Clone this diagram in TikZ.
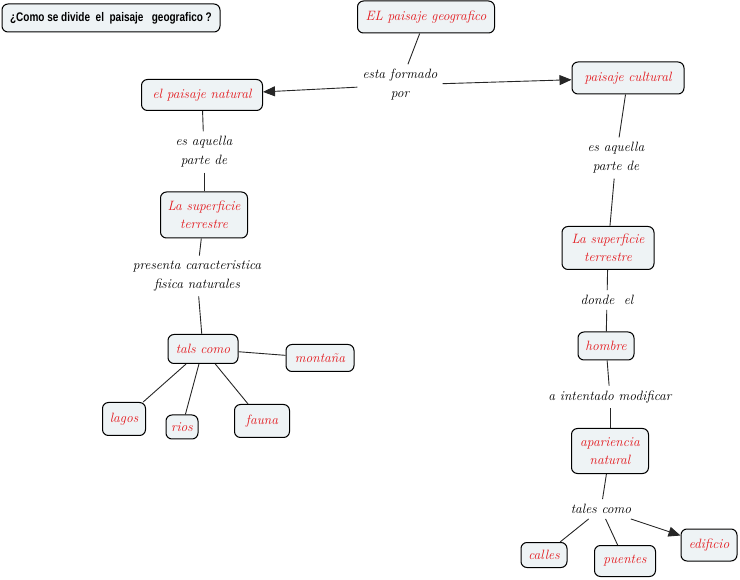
\documentclass[tikz,border=0pt]{standalone}
\usepackage{fontspec}
\usepackage{graphicx}
\newfontfamily\titlefont{Liberation Sans}
\usetikzlibrary{arrows.meta}
\definecolor{boxfill}{HTML}{EEF3F5}
\definecolor{txtred}{HTML}{E3161B}
\tikzset{
  box/.style={draw=black, line width=1pt, rounded corners=6pt, fill=boxfill, text=txtred,
    font=\fontsize{13.5}{18}\selectfont\itshape, align=center, inner sep=1pt},
  lab/.style={font=\fontsize{13.5}{19}\selectfont\itshape, align=center, inner sep=5pt, text=black},
  con/.style={draw=black!85, line width=0.9pt},
  arr/.style={con, -{Triangle[length=12pt,width=10pt]}},
}
\begin{document}
\begin{tikzpicture}[x=1pt,y=-1pt]
\useasboundingbox (0,0) rectangle (740,580);
% title
\node[box, text=black, font=\titlefont\bfseries\fontsize{12.5}{14}\selectfont, minimum width=218pt, minimum height=28pt] (title) at (111,18)
  {\scalebox{0.8}[1]{¿Como se divide\ \ el\ \ paisaje\ \ \ geografico ?}};
% boxes
\node[box, minimum width=137pt, minimum height=32pt] (geo) at (426,17) {EL paisaje geografico};
\node[box, minimum width=112pt, minimum height=32pt] (cult) at (628,78) {paisaje cultural};
\node[box, minimum width=121pt, minimum height=31pt] (nat) at (202,95) {el paisaje natural};
\node[box, minimum width=87pt, minimum height=46pt] (supL) at (204,215) {La superficie\\terrestre};
\node[box, minimum width=70pt, minimum height=29pt] (tals) at (203,349) {tals como};
\node[box, minimum width=68pt, minimum height=27pt] (mont) at (320,358) {montaña};
\node[box, minimum width=43pt, minimum height=33pt] (lagos) at (124,419) {lagos};
\node[box, minimum width=32pt, minimum height=24pt] (rios) at (182,427) {rios};
\node[box, minimum width=55pt, minimum height=33pt] (fauna) at (262,421) {fauna};
\node[box, minimum width=92pt, minimum height=43pt] (supR) at (608,248) {La superficie\\terrestre};
\node[box, minimum width=56pt, minimum height=28pt] (hombre) at (606,346) {hombre};
\node[box, minimum width=77pt, minimum height=45pt] (apar) at (610,451) {apariencia\\natural};
\node[box, minimum width=46pt, minimum height=25pt] (calles) at (544,555) {calles};
\node[box, minimum width=61pt, minimum height=31pt] (puentes) at (625,561) {puentes};
\node[box, minimum width=56pt, minimum height=32pt] (edif) at (709,545) {edificio};
% linking phrases
\node[lab] (lform) at (400,85) {esta formado\\por};
\node[lab] (lnat) at (204,152) {es aquella\\parte de};
\node[lab] (lpres) at (197,276) {presenta caracteristica\\fisica naturales};
\node[lab] (lcult) at (616,158) {es aquella\\parte de};
\node[lab] (ldonde) at (607,300) {donde\ \ el};
\node[lab] (lint) at (610,397) {a intentado modificar};
\node[lab] (ltales) at (601,509) {tales como};
% connectors
\draw[con] (geo) -- (lform);
\draw[arr] (lform) -- (nat);
\draw[arr] (lform) -- (cult);
\draw[con] (nat) -- (lnat);
\draw[con] (lnat) -- (supL);
\draw[con] (supL) -- (lpres);
\draw[con] (lpres) -- (tals);
\draw[con] (tals) -- (mont);
\draw[con] (tals) -- (lagos);
\draw[con] (tals) -- (rios);
\draw[con] (tals) -- (fauna);
\draw[con] (cult) -- (lcult);
\draw[con] (lcult) -- (supR);
\draw[con] (supR) -- (ldonde);
\draw[con] (ldonde) -- (hombre);
\draw[con] (hombre) -- (lint);
\draw[con] (lint) -- (apar);
\draw[con] (apar) -- (ltales);
\draw[con] (ltales) -- (calles);
\draw[con] (ltales) -- (puentes);
\draw[arr] (ltales) -- (edif);
\end{tikzpicture}
\end{document}
